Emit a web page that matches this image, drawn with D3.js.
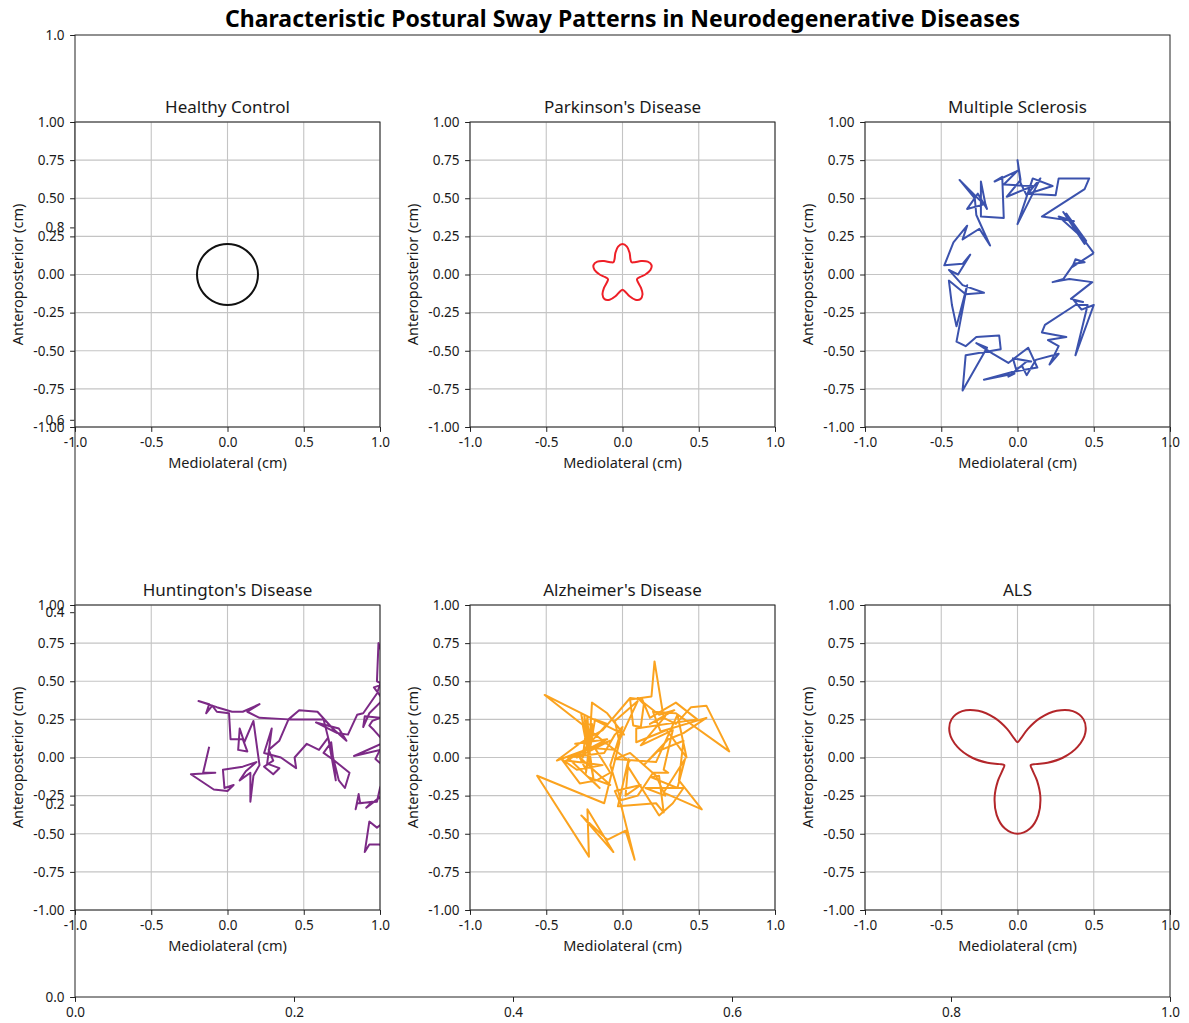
<!DOCTYPE html>
<html><head><meta charset="utf-8">
<script src="https://cdn.jsdelivr.net/npm/d3@7"></script>
<style>
body{margin:0;background:#fff}
svg text{font-family:"Noto Sans",sans-serif;fill:#1a1a1a}
</style>
</head><body>
<svg id="c" width="1189" height="1023"></svg>
<script>
// ---------------- DATA ----------------
const mainTitle = "Characteristic Postural Sway Patterns in Neurodegenerative Diseases";
const panelTitles = ["Healthy Control","Parkinson's Disease","Multiple Sclerosis","Huntington's Disease","Alzheimer's Disease","ALS"];
const xLabel = "Mediolateral (cm)";
const yLabel = "Anteroposterior (cm)";
const panelXTicks = [-1.0,-0.5,0.0,0.5,1.0];
const panelYTicks = [-1.0,-0.75,-0.5,-0.25,0.0,0.25,0.5,0.75,1.0];
const bgTicks = [0.0,0.2,0.4,0.6,0.8,1.0];

// Healthy control: small circle (r ~0.2)
const healthy = [[0.2,0],[0.1932,0.0518],[0.1732,0.1],[0.1414,0.1414],[0.1,0.1732],[0.0518,0.1932],[0,0.2],
 [-0.0518,0.1932],[-0.1,0.1732],[-0.1414,0.1414],[-0.1732,0.1],[-0.1932,0.0518],[-0.2,0],
 [-0.1932,-0.0518],[-0.1732,-0.1],[-0.1414,-0.1414],[-0.1,-0.1732],[-0.0518,-0.1932],[0,-0.2],
 [0.0518,-0.1932],[0.1,-0.1732],[0.1414,-0.1414],[0.1732,-0.1],[0.1932,-0.0518]];

// Parkinson's: five-lobed star
const parkinson = [[0.150,0.000],[0.1831,0.0290],[0.1902,0.0618],[0.1652,0.0842],[0.1214,0.0882],[0.0810,0.0810],
 [0.0588,0.0809],[0.0520,0.1021],[0.0464,0.1427],[0.0290,0.1831],[0,0.2],[-0.0290,0.1831],[-0.0464,0.1427],
 [-0.0520,0.1021],[-0.0588,0.0809],[-0.0810,0.0810],[-0.1214,0.0882],[-0.1652,0.0842],[-0.1902,0.0618],
 [-0.1831,0.0290],[-0.150,0],[-0.1132,-0.0179],[-0.0951,-0.0309],[-0.1021,-0.0520],[-0.1214,-0.0882],
 [-0.1311,-0.1311],[-0.1176,-0.1618],[-0.0842,-0.1652],[-0.0464,-0.1427],[-0.0179,-0.1132],[0,-0.1],
 [0.0179,-0.1132],[0.0464,-0.1427],[0.0842,-0.1652],[0.1176,-0.1618],[0.1311,-0.1311],[0.1214,-0.0882],
 [0.1021,-0.0520],[0.0951,-0.0309],[0.1132,-0.0179]];

// Multiple sclerosis: jagged ring
const sclerosis = [[0.50,0.14],[0.30,0.41],[0.44,0.20],[0.32,0.40],[0.45,0.22],[0.27,0.38],[0.37,0.35],[0.16,0.38],
 [0.44,0.56],[0.47,0.63],[0.27,0.63],[0.25,0.52],[0.07,0.53],[0.23,0.58],[0.10,0.63],[0.00,0.33],[0.15,0.63],
 [0.06,0.52],[0.02,0.60],[0.00,0.75],[0.02,0.62],[-0.07,0.51],[0.10,0.58],[-0.09,0.59],[0.00,0.68],[-0.15,0.61],
 [-0.10,0.64],[-0.09,0.37],[-0.24,0.38],[-0.24,0.61],[-0.21,0.46],[-0.20,0.43],[-0.26,0.53],[-0.33,0.43],
 [-0.22,0.46],[-0.38,0.62],[-0.28,0.50],[-0.27,0.39],[-0.18,0.19],[-0.25,0.30],[-0.36,0.23],[-0.33,0.32],
 [-0.42,0.21],[-0.48,0.06],[-0.36,0.07],[-0.31,0.13],[-0.39,0.00],[-0.45,0.03],[-0.36,-0.07],[-0.22,-0.12],
 [-0.34,-0.13],[-0.45,-0.04],[-0.43,-0.20],[-0.40,-0.34],[-0.33,-0.07],[-0.40,-0.44],[-0.34,-0.47],[-0.27,-0.41],
 [-0.12,-0.40],[-0.11,-0.49],[-0.34,-0.53],[-0.36,-0.76],[-0.20,-0.48],[-0.27,-0.45],[-0.16,-0.52],[-0.06,-0.58],
 [0.07,-0.48],[0.13,-0.61],[-0.04,-0.64],[-0.22,-0.69],[-0.02,-0.65],[-0.06,-0.67],[0.06,-0.57],[0.09,-0.57],
 [-0.03,-0.55],[-0.01,-0.62],[0.03,-0.60],[0.06,-0.66],[0.12,-0.56],[0.27,-0.52],[0.21,-0.59],[0.27,-0.47],
 [0.20,-0.43],[0.32,-0.41],[0.16,-0.38],[0.18,-0.33],[0.38,-0.20],[0.46,-0.20],[0.38,-0.53],[0.50,-0.20],
 [0.42,-0.23],[0.37,-0.17],[0.43,-0.18],[0.35,-0.16],[0.49,-0.05],[0.34,-0.03],[0.23,-0.05],[0.30,-0.03],
 [0.37,0.07],[0.44,0.08],[0.38,0.10],[0.36,0.05],[0.50,0.14]];

// Huntington's: drifting erratic walk (leaves the frame at the right)
const huntington = [[-0.12,0.07],[-0.16,-0.10],[-0.08,-0.10],[-0.24,-0.11],[-0.09,-0.21],[0.00,-0.22],[0.04,-0.18],
 [-0.02,-0.20],[-0.03,-0.08],[0.10,-0.06],[0.19,-0.03],[0.12,-0.09],[0.08,-0.15],[0.15,-0.10],[0.15,-0.29],
 [0.17,-0.12],[0.21,-0.05],[0.20,0.02],[0.17,0.24],[0.11,0.10],[0.08,0.19],[0.07,0.05],[0.13,0.04],[0.10,0.12],
 [0.02,0.12],[0.01,0.29],[-0.07,0.30],[-0.10,0.34],[-0.14,0.29],[-0.12,0.35],[-0.19,0.37],[-0.07,0.33],
 [0.03,0.30],[0.10,0.30],[0.21,0.35],[0.13,0.30],[0.21,0.26],[0.40,0.25],[0.34,0.11],[0.27,0.05],[0.30,-0.02],
 [0.24,-0.06],[0.30,-0.11],[0.34,-0.07],[0.26,-0.04],[0.29,0.19],[0.24,0.03],[0.35,0.00],[0.45,-0.07],
 [0.44,0.00],[0.52,0.09],[0.60,0.05],[0.66,0.13],[0.71,-0.15],[0.68,0.10],[0.63,0.03],[0.70,-0.02],[0.80,-0.10],
 [0.77,-0.20],[0.73,-0.15],[0.63,0.25],[0.56,0.25],[0.40,0.25],[0.47,0.31],[0.59,0.30],[0.69,0.19],[0.78,0.11],
 [0.73,0.19],[0.58,0.23],[0.72,0.16],[0.79,0.15],[0.85,0.28],[0.89,0.29],[0.98,0.42],[1.04,0.60],[0.99,0.75],
 [0.98,0.50],[1.02,0.48],[0.96,0.46],[1.02,0.38],[0.93,0.29],[0.89,0.20],[0.90,0.27],[1.00,0.26],[0.95,0.24],
 [0.93,0.21],[0.96,0.18],[1.03,0.10],[0.83,0.01],[1.00,0.05],[0.97,-0.01],[1.05,-0.08],[1.00,-0.20],[0.98,-0.29],
 [0.85,-0.30],[0.84,-0.34],[0.86,-0.24],[0.87,-0.30],[0.95,-0.29],[0.91,-0.33],[1.00,-0.26],[1.06,-0.40],
 [0.98,-0.46],[0.93,-0.42],[0.90,-0.62],[0.93,-0.57],[1.00,-0.57],[1.08,-0.70]];

// Alzheimer's: dense tangle around the centre
const alzheimer = [[0.05,-0.03],[-0.51,0.41],[0.01,0.15],[-0.10,0.29],[-0.20,0.36],[-0.22,0.03],[-0.25,0.27],
 [-0.19,-0.14],[-0.27,0.28],[-0.23,0.10],[-0.31,0.09],[-0.10,0.12],[-0.37,-0.02],[-0.13,-0.05],[-0.30,-0.08],
 [-0.40,-0.01],[-0.28,-0.17],[-0.17,-0.15],[-0.08,-0.10],[-0.18,0.06],[-0.05,0.05],[0.10,0.37],[-0.05,0.24],
 [-0.02,0.10],[-0.12,-0.30],[-0.56,-0.12],[-0.22,-0.65],[-0.23,-0.34],[-0.06,-0.62],[-0.27,-0.38],[-0.10,-0.54],
 [0.02,-0.48],[0.08,-0.67],[-0.01,-0.31],[-0.05,-0.22],[0.12,-0.18],[0.02,-0.25],[0.04,-0.01],[-0.03,-0.32],
 [0.22,-0.30],[0.27,-0.36],[0.24,-0.12],[0.19,-0.13],[0.36,-0.20],[0.41,-0.01],[0.27,-0.23],[0.52,-0.34],
 [0.37,-0.15],[0.40,0.11],[0.23,0.04],[0.14,-0.05],[0.30,0.12],[0.40,0.16],[0.55,0.26],[0.25,0.17],[0.20,0.30],
 [0.35,0.29],[0.70,0.04],[0.55,0.34],[0.45,0.33],[0.35,0.22],[0.27,0.26],[0.21,0.63],[0.19,0.40],[0.05,0.38],
 [0.07,0.21],[0.12,0.20],[0.14,0.35],[0.10,0.39],[0.24,0.28],[0.34,0.31],[0.18,0.22],[0.28,0.27],[0.12,0.08],
 [0.33,0.18],[0.27,-0.08],[0.30,-0.10],[0.20,-0.10],[0.10,-0.25],[-0.01,-0.28],[-0.08,-0.05],[0.00,0.20],
 [-0.05,0.15],[-0.12,0.03],[-0.36,0.00],[-0.15,-0.20],[-0.22,-0.13],[-0.08,-0.18],[-0.28,0.00],[-0.24,-0.08],
 [-0.19,0.21],[-0.26,0.00],[-0.23,0.27],[-0.21,-0.05],[-0.26,0.21],[-0.20,0.22],[-0.24,-0.10],[-0.18,0.25],
 [-0.10,0.22],[-0.30,0.00],[-0.08,0.11],[-0.43,-0.02],[-0.27,0.10],[-0.13,0.18],[0.05,0.39],[0.13,0.38],
 [0.18,0.26],[0.35,0.36],[0.49,0.25],[0.09,0.19],[0.09,0.10],[0.29,0.18],[0.42,0.00],[0.36,0.28],[0.22,-0.03],
 [-0.05,-0.01],[0.05,0.03],[0.22,-0.12],[0.28,-0.25],[0.15,-0.20],[0.40,-0.20],[0.33,-0.30],[0.24,-0.38],
 [0.03,-0.05]];

// ALS: three-lobed pattern
const als = [[0.3,0],[0.3939,0.0695],[0.4447,0.1618],[0.4330,0.25],[0.3625,0.3042],[0.2571,0.3064],[0.15,0.2598],
 [0.0684,0.1879],[0.0220,0.1249],[0,0.1],[-0.0220,0.1249],[-0.0684,0.1879],[-0.15,0.2598],[-0.2571,0.3064],
 [-0.3625,0.3042],[-0.4330,0.25],[-0.4447,0.1618],[-0.3939,0.0695],[-0.3,0],[-0.1970,-0.0347],[-0.1192,-0.0434],
 [-0.0866,-0.05],[-0.0971,-0.0815],[-0.1286,-0.1532],[-0.15,-0.2598],[-0.1368,-0.3759],[-0.0822,-0.4660],
 [0,-0.5],[0.0822,-0.4660],[0.1368,-0.3759],[0.15,-0.2598],[0.1286,-0.1532],[0.0971,-0.0815],[0.0866,-0.05],
 [0.1192,-0.0434],[0.1970,-0.0347]];

const panelData = [healthy, parkinson, sclerosis, huntington, alzheimer, als];
const panelSmooth = [true, true, false, false, false, true];

// ---------------- STYLE / LAYOUT ----------------
const colors = ["#111111","#ee1f27","#3b52ad","#7c2a86","#fba31f","#b3262a"];
const W = 1189, H = 1023;
const bg = {left:75, right:1170, top:35, bottom:997};
const colX = [75, 470, 865], rowY = [122, 605], S = 305;
const FONT_TICK = 13.5, TICK = 4.9, PAD = 5.6;

const svg = d3.select("#c");
svg.append("rect").attr("width",W).attr("height",H).attr("fill","#fff");

// Title
svg.append("text").attr("x",622.5).attr("y",27).attr("text-anchor","middle")
  .style("font-size","23px").style("font-weight","bold").style("fill","#000").text(mainTitle);

// Background axes
const bx = d3.scaleLinear().domain([0,1]).range([bg.left,bg.right]);
const by = d3.scaleLinear().domain([0,1]).range([bg.bottom,bg.top]);
svg.append("rect").attr("x",bg.left).attr("y",bg.top).attr("width",bg.right-bg.left).attr("height",bg.bottom-bg.top)
  .attr("fill","#fff").attr("stroke","#222").attr("stroke-width",1);

function styleAxis(g){
  g.select(".domain").remove();
  g.selectAll(".tick line").attr("stroke","#222").attr("stroke-width",1);
  g.selectAll(".tick text").attr("font-family",null).style("font-size",FONT_TICK+"px").style("fill","#1a1a1a")
    .text(function(){return d3.select(this).text().replace("\u2212","-");});
}
const bgBottom = svg.append("g").attr("transform",`translate(0,${bg.bottom})`)
  .call(d3.axisBottom(bx).tickValues(bgTicks).tickFormat(d3.format(".1f")).tickSize(TICK).tickPadding(PAD));
styleAxis(bgBottom);
const bgLeft = svg.append("g").attr("transform",`translate(${bg.left},0)`)
  .call(d3.axisLeft(by).tickValues(bgTicks).tickFormat(d3.format(".1f")).tickSize(TICK).tickPadding(PAD));
styleAxis(bgLeft);

// Panels
panelTitles.forEach((t,i)=>{
  const x0 = colX[i%3], y0 = rowY[Math.floor(i/3)];
  const x = d3.scaleLinear().domain([-1,1]).range([x0, x0+S]);
  const y = d3.scaleLinear().domain([-1,1]).range([y0+S, y0]);
  const g = svg.append("g");
  g.append("rect").attr("x",x0).attr("y",y0).attr("width",S).attr("height",S).attr("fill","#fff");
  // grid
  g.append("g").selectAll("line").data(panelXTicks).join("line")
    .attr("x1",d=>x(d)).attr("x2",d=>x(d)).attr("y1",y0).attr("y2",y0+S)
    .attr("stroke","#c4c4c4").attr("stroke-width",1.1);
  g.append("g").selectAll("line").data(panelYTicks).join("line")
    .attr("y1",d=>y(d)).attr("y2",d=>y(d)).attr("x1",x0).attr("x2",x0+S)
    .attr("stroke","#c4c4c4").attr("stroke-width",1.1);
  // clip
  const cid = "clip"+i;
  svg.append("clipPath").attr("id",cid).append("rect").attr("x",x0).attr("y",y0).attr("width",S).attr("height",S);
  const line = d3.line().x(d=>x(d[0])).y(d=>y(d[1]))
    .curve(panelSmooth[i] ? d3.curveCatmullRomClosed : d3.curveLinear);
  g.append("path").attr("clip-path",`url(#${cid})`).attr("d",line(panelData[i]))
    .attr("fill","none").attr("stroke",colors[i]).attr("stroke-width",2)
    .attr("stroke-linejoin","round");
  // spines
  g.append("rect").attr("x",x0).attr("y",y0).attr("width",S).attr("height",S)
    .attr("fill","none").attr("stroke","#222").attr("stroke-width",1);
  // axes
  const ax = g.append("g").attr("transform",`translate(0,${y0+S})`)
    .call(d3.axisBottom(x).tickValues(panelXTicks).tickFormat(d3.format(".1f")).tickSize(TICK).tickPadding(PAD));
  styleAxis(ax);
  const ay = g.append("g").attr("transform",`translate(${x0},0)`)
    .call(d3.axisLeft(y).tickValues(panelYTicks).tickFormat(d3.format(".2f")).tickSize(TICK).tickPadding(PAD));
  styleAxis(ay);
  // labels
  g.append("text").attr("x",x0+S/2).attr("y",y0+S+41).attr("text-anchor","middle")
    .style("font-size","14.5px").text(xLabel);
  g.append("text").attr("transform",`translate(${x0-52},${y0+S/2}) rotate(-90)`).attr("text-anchor","middle")
    .style("font-size","14.5px").text(yLabel);
  g.append("text").attr("x",x0+S/2).attr("y",y0-9).attr("text-anchor","middle")
    .style("font-size","17px").text(t);
});
</script>
</body></html>
